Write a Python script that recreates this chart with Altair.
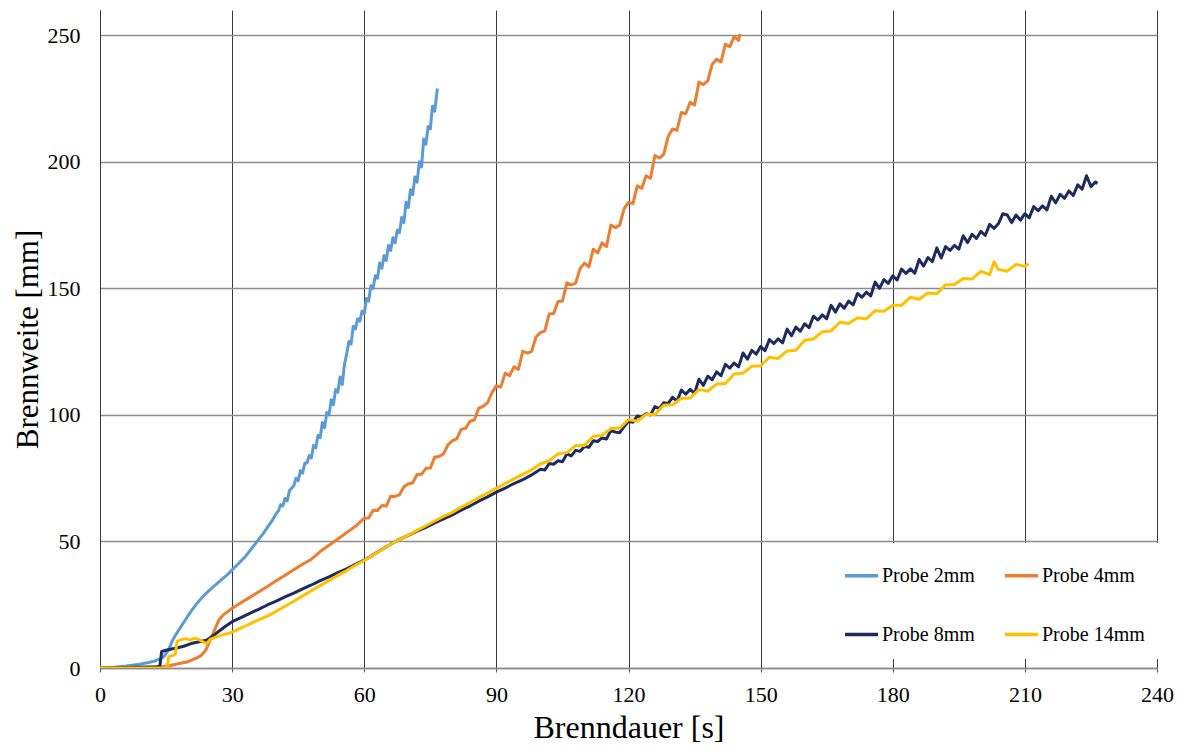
import altair as alt
import pandas as pd

# ---------------- data ----------------
series_names = ["Probe 2mm", "Probe 4mm", "Probe 8mm", "Probe 14mm"]
series_colors = ["#5b9bd5", "#ed7d31", "#1d2b5f", "#ffc000"]

x_ticks = [0, 30, 60, 90, 120, 150, 180, 210, 240]
y_ticks = [0, 50, 100, 150, 200, 250]

t2 = [0, 3, 6, 9, 11, 12.5, 13.5, 14.5, 15.5, 16.5, 17.5, 19, 20.5, 22, 23.5, 25, 27, 29, 31, 33, 35, 37, 39,
      40, 40.5, 41, 41.5, 42, 42.5, 43, 43.5, 44, 44.5, 45, 45.5, 46, 46.5, 47, 47.5, 48, 48.5, 49, 49.5,
      50, 50.5, 51, 51.5, 52, 52.5, 53, 53.5, 54, 54.5, 55, 55.5,
      56, 56.5, 57, 57.5, 58, 58.5, 59, 59.5, 60, 60.5, 61, 61.5, 62, 62.5, 63, 63.5, 64, 64.5, 65, 65.5,
      66, 66.5, 67, 67.5, 68, 68.5, 69, 69.5, 70, 70.5, 71, 71.5, 72, 72.5, 73, 73.5, 74, 74.5, 75, 75.5,
      76, 76.6]
y2 = [0, 0.3, 0.8, 1.5, 2.2, 2.8, 3.5, 4.5, 7, 11, 14, 18, 22, 25.5, 28.5, 31, 34, 37, 40.5, 44, 48.5, 53, 58,
      61, 62, 64.5, 64, 67, 66, 70, 71, 72, 75, 74, 78, 77, 81, 81, 84, 83, 88, 87, 92,
      91, 97, 95, 101, 100, 106, 104, 110, 109, 115, 112, 120,
      124, 129, 128, 135, 134, 138, 137, 141, 140, 146, 145, 151, 150, 155, 154, 160, 158, 163, 161, 167,
      165, 170, 168, 173, 172, 178, 176, 184, 182, 189, 187, 194, 192, 200, 198, 209, 207, 214, 213, 222,
      220, 229]

t4 = [0, 5, 10, 14, 16, 18, 20, 22, 23, 24, 25, 26, 27, 28, 30, 32, 34, 36, 38, 40, 42, 44, 46, 48, 50, 52,
      54, 56, 58,
      60, 61, 62, 63, 64, 65, 66, 67, 68, 69, 70, 71, 72, 73, 74, 75, 76, 77, 78, 79, 80, 81, 82, 83, 84,
      85, 86, 87, 88, 89, 90, 91, 92, 93, 94, 95, 96, 97, 98, 99, 100, 101, 102, 103, 104, 105, 106, 107,
      108, 109, 110, 111, 112, 113, 114, 115, 116, 117, 118, 119, 120, 121, 122, 123, 124, 125, 126, 127,
      128, 129, 130, 131, 132, 133, 134, 135, 136, 137, 138, 139, 140, 141, 142, 143, 144, 145, 145.3]
y4 = [0, 0, 0.2, 0.5, 1, 1.8, 2.5, 4, 5, 7, 11, 15, 19, 21, 23.6, 25.8, 27.9, 30, 32.2, 34.5, 36.6, 38.8,
      41, 43, 46, 48.5, 51, 53.5, 56,
      59.2, 59.3, 62.3, 62.2, 64.2, 64.0, 67.9, 67.8, 68.4, 71.6, 72.8, 73.1, 76.5, 76.6, 78.9, 79.0, 83.3,
      83.6, 84.6, 88.2, 89.8, 90.5, 94.3, 94.7, 97.5, 98.0, 102.7, 103.4, 104.8, 108.8, 111.5, 111.0,
      116.5, 115.5, 119.0, 118.0, 125.2, 124.4, 125.1, 130.8, 132.5, 133.2, 139.9, 140.1, 144.8, 145.0,
      152.2, 151.4, 152.1, 157.8, 160.0, 158.5, 165.5, 164.0, 168.0, 166.5, 175.0, 174.0, 175.0, 181.5,
      184.0, 183.5, 190.5, 189.5, 194.5, 193.5, 202.5, 201.5, 203.0, 210.0, 213.0, 212.5, 219.5, 219.0,
      223.5, 222.5, 231.5, 230.5, 232.0, 238.5, 240.5, 239.5, 246.5, 245.5, 249.5, 248.0, 250.5]

t8 = [0, 4, 8, 11, 13, 13.6, 14, 15, 16, 17.4, 19, 21, 22.5, 24.2, 25.5, 27, 28.5, 30,
      32, 34, 36, 38, 40, 42, 44, 46, 48, 50, 52, 54, 56, 58, 60, 62, 64, 66, 68, 70, 72, 74, 76, 78, 80,
      82, 84, 86, 88, 90, 92, 94, 96, 98,
      100, 101, 102, 103, 104, 105, 106, 107, 108, 109, 110, 111, 112, 113, 114, 115, 116, 117, 118, 119,
      120, 121, 122, 123, 124, 125, 126, 127, 128, 129, 130, 131, 132, 133, 134, 135, 136, 137, 138, 139,
      140, 141, 142, 143, 144, 145, 146, 147, 148, 149, 150, 151, 152, 153, 154, 155, 156, 157, 158, 159,
      160, 161, 162, 163, 164, 165, 166, 167, 168, 169, 170, 171, 172, 173, 174, 175, 176, 177, 178, 179,
      180, 181, 182, 183, 184, 185, 186, 187, 188, 189, 190, 191, 192, 193, 194, 195, 196, 197, 198, 199,
      200, 201, 202, 203, 204, 205, 206, 207, 208, 209, 210, 211, 212, 213, 214, 215, 216, 217, 218, 219,
      220, 221, 222, 223, 224, 225, 226, 226.5]
y8 = [0, 0.1, 0.3, 0.4, 0.5, 0.8, 6.5, 7, 7.4, 7.9, 8.6, 9.8, 10.4, 11, 12.5, 14.5, 16.5, 18.3,
      19.9, 21.6, 23.2, 24.9, 26.4, 28.1, 29.6, 31.3, 32.8, 34.5, 36.0, 37.7, 39.2, 41.0, 42.6, 44.7, 46.8,
      48.9, 50.8, 52.4, 54.1, 55.6, 57.3, 58.9, 60.5, 62.4, 64.0, 65.9, 67.6, 69.5, 71.1, 72.9, 74.4, 76.3,
      78.5, 78.2, 80.8, 80.5, 81.9, 81.5, 84.6, 83.8, 86.0, 85.6, 87.5, 87.2, 89.8, 89.5, 90.9, 90.5, 93.9,
      93.2, 93.0, 95.4, 97.5, 97.1, 99.6, 99.2, 100.5, 100.0, 103.3, 102.5, 104.8, 104.5,
      107, 105.4, 109.8, 108.2, 110.1, 108.5, 114.1, 111.7, 115.3, 113.9,
      117, 115.5, 120, 118.5, 120.5, 119, 124.5, 122, 125.5, 124,
      127, 125.4, 129.8, 128.2, 130.1, 128.5, 133.9, 131.3, 134.7, 133.1,
      136, 134.5, 139, 137.5, 139.5, 138, 143.3, 140.6, 143.9, 142.2,
      145, 143.5, 148, 146.5, 148.5, 147, 152.5, 150, 153.5, 152,
      155, 153.3, 157.6, 155.9, 157.7, 156, 161.4, 158.8, 162.2, 160.6,
      166.0, 162, 166.5, 165, 167, 165.5, 170.8, 168.1, 171.4, 169.7,
      172.5, 170.9, 175.3, 173.7, 175.6, 179.5, 179, 176, 179, 177,
      179.5, 177.9, 182.3, 180.7, 182.6, 181, 186.4, 183.8, 187.2, 185.6,
      188.5, 186.7, 190.9, 189.2, 194.5, 190.2, 192, 191.5]

t14 = [0, 5, 10, 15.3, 15.6, 16.5, 17.1, 17.5, 18.5, 19.5, 20.5, 21.5, 22.7, 23.5, 24.2, 25, 26, 27, 28,
       29.5, 31, 33, 35, 36.8, 38.6,
       40, 42, 44, 46, 48, 50, 52, 54, 56, 58, 60, 62, 64, 66, 68, 70, 72, 74, 76, 78, 80, 82, 84, 86, 88,
       90, 92, 94, 96, 98,
       100, 102, 104, 106, 108, 110, 112, 114, 116, 118, 120, 122, 124, 126, 128, 130, 132, 134, 136, 138,
       140, 142, 144, 146, 148, 150, 152, 154, 156, 158, 160, 162, 164, 166, 168, 170, 172, 174, 176, 178,
       180, 182, 184, 186, 188, 190, 192, 194, 196, 198, 200, 202, 203, 204, 206, 208, 210, 210.8]
y14 = [0, 0, 0, 0, 4.5, 5, 5.5, 10.5, 11.2, 11.6, 11, 11.8, 11, 10.2, 9.6, 11.3, 12, 12.6, 13.2,
       13.8, 15, 16.6, 18.2, 19.6, 21,
       22.4, 24.4, 26.4, 28.5, 30.5, 32.6, 34.5, 36.6, 38.5, 40.6, 42.5, 44.6, 46.7, 48.9, 50.7, 52.5,
       54.4, 56.2, 58.1, 59.9, 61.5, 63.5, 65.4, 67.4, 69.1, 71, 72.9, 74.7, 76.5, 78.3,
       80.6, 81.9, 84.6, 85.1, 87.9, 87.9, 91.6, 91.9, 94.6, 94.8, 98.2, 97.5, 100.2, 100.2, 103.8, 104.0,
       106.6, 106.7, 110.0, 109.4, 112.2, 112.4, 116.2, 116.5, 119.2, 119.4, 122.8, 122.3, 125.3, 125.6,
       129.5, 130.0, 132.9, 133.2, 136.6, 136.1, 138.4, 137.9, 141.2, 141.0, 143.3, 143.3, 146.5, 145.7,
       148.2, 147.9, 151.4, 151.5, 153.9, 153.7, 156.7, 155.4, 160.5, 157.5, 156.8, 159.5, 158.7, 159.8]

# ---------------- build table ----------------
rows = []
for name, ts, ys in zip(series_names, [t2, t4, t8, t14], [y2, y4, y8, y14]):
    for i, (t, y) in enumerate(zip(ts, ys)):
        rows.append({"series": name, "t": t, "y": y, "i": i})
df = pd.DataFrame(rows)

FONT = "Liberation Serif"

color = alt.Color(
    "series:N",
    scale=alt.Scale(domain=series_names, range=series_colors),
    legend=alt.Legend(
        title=None,
        orient="none",
        legendX=729,
        legendY=533,
        direction="horizontal",
        columns=2,
        columnPadding=23,
        rowPadding=30,
        symbolType="stroke",
        symbolSize=1089,
        symbolStrokeWidth=3.5,
        labelFont=FONT,
        labelFontSize=20,
        labelColor="#000000",
        labelOffset=2,
        fillColor="#ffffff",
        padding=14,
        labelLimit=200,
    ),
)

x = alt.X(
    "t:Q",
    scale=alt.Scale(domain=[0, 240], nice=False),
    axis=alt.Axis(
        values=x_ticks,
        grid=True,
        gridColor="#3a3a3a",
        gridWidth=1,
        domainColor="#8c8c8c",
        domainWidth=1.5,
        ticks=True,
        tickColor="#555555",
        tickSize=4,
        labelFont=FONT,
        labelFontSize=22,
        labelColor="#000000",
        labelPadding=12,
        labelFlush=False,
        title="Brenndauer [s]",
        titleFont=FONT,
        titleFontSize=32,
        titleFontWeight="normal",
        titleColor="#000000",
        titlePadding=7,
    ),
)
y = alt.Y(
    "y:Q",
    scale=alt.Scale(domain=[0, 260], nice=False),
    axis=alt.Axis(
        values=y_ticks,
        grid=True,
        gridColor="#8c8c8c",
        gridWidth=1.5,
        domainColor="#3a3a3a",
        domainWidth=1,
        ticks=False,
        labelFont=FONT,
        labelFontSize=22,
        labelColor="#000000",
        labelPadding=20,
        title="Brennweite [mm]",
        titleFont=FONT,
        titleFontSize=31,
        titleFontWeight="normal",
        titleColor="#000000",
        titlePadding=3,
    ),
)

layers = []
for name in series_names:
    layers.append(
        alt.Chart(df)
        .transform_filter(alt.datum.series == name)
        .mark_line(strokeWidth=3, strokeJoin="round", clip=True)
        .encode(x=x, y=y, color=color, order="i:Q")
    )

chart = (
    alt.layer(*layers)
    .properties(
        width=1057,
        height=658,
        padding={"left": 92, "top": 2, "right": 18, "bottom": 82},
        autosize=alt.AutoSizeParams(type="none"),
        background="#ffffff",
    )
    .configure_view(stroke=None)
)

chart.save("out.html", embed_options={"renderer": "svg", "actions": False})
